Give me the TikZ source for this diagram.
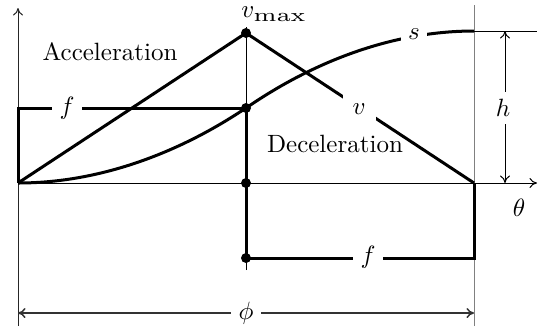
\documentclass[tikz,border=0pt]{standalone}
\usepackage{graphicx}
\usetikzlibrary{arrows.meta}
\begin{document}
\begin{tikzpicture}[x=0.4pt,y=-0.4pt,
  thin line/.style={line width=0.4pt},
  thick line/.style={line width=1.2pt},
  dot/.style={circle,fill=black,inner sep=0pt,minimum size=4pt},
  gap label/.style={fill=white,inner sep=3pt},
  axis arrow/.style={-{To[length=3pt,width=4pt]}},
  dim arrow/.style={{To[length=3pt,width=4pt]}-{To[length=3pt,width=4pt]}}]
\useasboundingbox (0,0) rectangle (538,329);
% key points
\coordinate (O) at (18,183);
\coordinate (Ytop) at (18,8);
\coordinate (Ybot) at (18,326);
\coordinate (Xend) at (537,183);
\coordinate (Mtop) at (246,27);
\coordinate (Mbot) at (246,270);
\coordinate (Rtop) at (474,5);
\coordinate (Rbot) at (474,326);
\coordinate (F) at (18,108);
\coordinate (E) at (474,183);
\coordinate (G) at (474,258);
\coordinate (T) at (474,31);
\coordinate (Tend) at (537,31);
\coordinate (Hb) at (505,183);
\coordinate (Ht) at (505,31);
\coordinate (Pl) at (18,313);
\coordinate (Pr) at (474,313);
% thin axes and guides
\draw[thin line,black!85,axis arrow] (Ybot) -- (Ytop);
\draw[thin line,axis arrow] (O) -- (Xend);
\draw[thin line] (Mbot) -- (Mtop);
\draw[thin line,gray] (Rbot) -- (Rtop);
\draw[thin line] (T) -- (Tend);
% dots nodes
\node[dot] (A) at (246,33) {};
\node[dot] (M) at (246,108) {};
\node[dot] (B) at (246,183) {};
\node[dot] (C) at (246,258) {};
% velocity
\draw[thick line] (O) -- (A.center) -- (E);
% force
\draw[thick line] (O) -- (F) -- (M.center) -- (C.center) -- (G) -- (E);
% displacement
\draw[thick line] (O) parabola (M.center) parabola[bend at end] (T);
% gap labels
\node[gap label] (fl) at (67,108) {$f$};
\node[gap label] (fr) at (368,257) {$f$};
\node[gap label,inner sep=4pt] (vl) at (359,109) {$v$};
\node[gap label] (sl) at (414,34) {$s$};
% dimensions
\draw[thin line,dim arrow] (Hb) -- (Ht);
\node[gap label] (hl) at (503,108) {$h$};
\draw[line width=0.6pt,black!80,dim arrow] (Pl) -- (Pr);
\node[gap label] (phil) at (246,313) {$\phi$};
% text
\node (vmax) at (274,14) {$v_{\scalebox{1.4}[1.05]{$\scriptstyle\max$}}$};
\node (theta) at (519,208) {$\theta$};
\node (acc) at (110,52) {Acceleration};
\node (dec) at (335,144) {Deceleration};
\end{tikzpicture}
\end{document}
